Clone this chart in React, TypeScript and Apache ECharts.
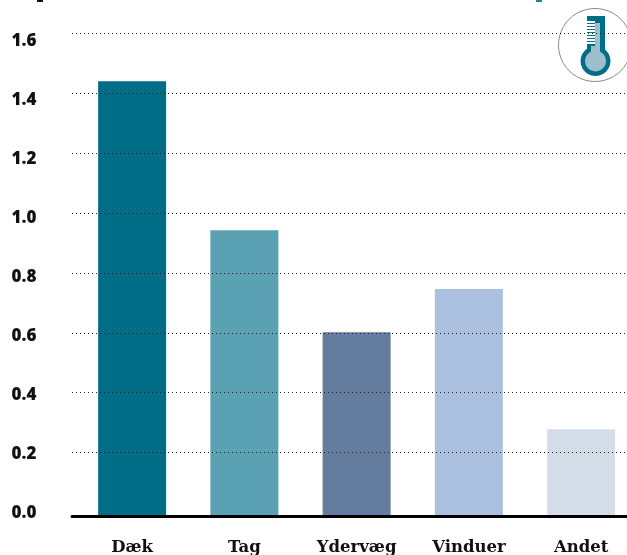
import React, { useEffect, useRef } from "react";
import * as echarts from "echarts";

const categories = ["Dæk", "Tag", "Ydervæg", "Vinduer", "Andet"];
const values = [1.44, 0.945, 0.607, 0.75, 0.285];
const barColors = ["#006E87", "#5BA1B4", "#647C9E", "#ABC0DF", "#D3DDE8"];
const tickValues = [0, 0.2, 0.4, 0.6, 0.8, 1.0, 1.2, 1.4, 1.6];
const tickStripes = [21, 24, 27, 30, 33, 36, 39, 42];

const TOP = 33;
const HEIGHT = 482;
const CANVAS_WIDTH = 660;

export default function App() {
  const ref = useRef<HTMLDivElement>(null);
  useEffect(() => {
    const chart = echarts.init(ref.current!, undefined, { renderer: "svg" });
    const teal = "#006E87";
    chart.setOption({
      animation: false,
      grid: [
        { left: 76, top: TOP, width: 561.25, height: HEIGHT },
        { left: 72, top: TOP, width: CANVAS_WIDTH - 72, height: HEIGHT },
      ],
      xAxis: [
        {
          type: "category",
          gridIndex: 0,
          data: categories,
          axisLine: { show: false },
          axisTick: { show: false },
          axisLabel: {
            margin: 23,
            interval: 0,
            fontFamily: "DejaVu Serif",
            fontWeight: "bold",
            fontSize: 16.5,
            color: "#111",
          },
        },
        {
          type: "category",
          gridIndex: 1,
          data: categories,
          position: "bottom",
          axisLine: { show: true, onZero: false, lineStyle: { color: "#000", width: 3 } },
          offset: 1.5,
          axisTick: { show: false },
          axisLabel: { show: false },
          z: 6,
        },
      ],
      yAxis: [
        // bars
        { type: "value", gridIndex: 0, min: 0, max: 1.6, show: false },
        // dotted grid lines, drawn over the bars
        {
          type: "value",
          gridIndex: 1,
          min: -0.008,
          max: 1.6,
          z: 5,
          axisLine: { show: false },
          axisTick: { show: false, customValues: tickValues.slice(1) },
          axisLabel: { show: false, customValues: tickValues.slice(1) },
          splitLine: {
            show: true,
            lineStyle: { color: "#222", type: [1, 3], width: 1 },
          },
        },
        // tick labels
        {
          type: "value",
          gridIndex: 0,
          position: "left",
          min: -0.0102,
          max: 1.6203,
          axisLine: { show: false },
          axisTick: { show: false, customValues: tickValues },
          splitLine: { show: false },
          axisLabel: {
            customValues: tickValues,
            margin: 64.5,
            align: "left",
            formatter: (v: number) => v.toFixed(1),
            fontFamily: "Open Sans",
            fontWeight: 800,
            fontSize: 17,
            color: "#111",
          },
        },
      ],
      series: [
        {
          type: "bar",
          xAxisIndex: 0,
          yAxisIndex: 0,
          barWidth: 68,
          data: values.map((v, i) => ({ value: v, itemStyle: { color: barColors[i] } })),
          z: 2,
        },
      ],
      graphic: [
        {
          type: "group",
          z: 20,
          children: [
            { type: "rect", shape: { x: 37, y: 0, width: 6, height: 2 }, style: { fill: "#111" } },
            { type: "rect", shape: { x: 536, y: 0, width: 6, height: 2 }, style: { fill: "#1E8298" } },
            { type: "circle", shape: { cx: 595, cy: 45, r: 36.5 }, style: { fill: "#fff", stroke: "#8a8a8a", lineWidth: 1 } },
            { type: "rect", shape: { x: 587, y: 16, width: 18, height: 38 }, style: { fill: teal } },
            { type: "circle", shape: { cx: 595.5, cy: 61, r: 15 }, style: { fill: teal } },
            { type: "circle", shape: { cx: 595.5, cy: 61, r: 10.5 }, style: { fill: "#9DBFCD" } },
            { type: "rect", shape: { x: 591, y: 23, width: 9, height: 36 }, style: { fill: "#9DBFCD" } },
            { type: "rect", shape: { x: 587, y: 21, width: 8, height: 25 }, style: { fill: teal } },
            ...tickStripes.map((y) => ({
              type: "rect",
              shape: { x: 587, y, width: 8, height: 2 },
              style: { fill: "#fff" },
            })),
          ],
        },
      ],
    });
    return () => chart.dispose();
  }, []);
  return (
    <div style={{ position: "fixed", left: 0, top: 0, width: 627, height: 555, overflow: "hidden" }}>
      <div ref={ref} style={{ width: CANVAS_WIDTH, height: 555 }} />
    </div>
  );
}
